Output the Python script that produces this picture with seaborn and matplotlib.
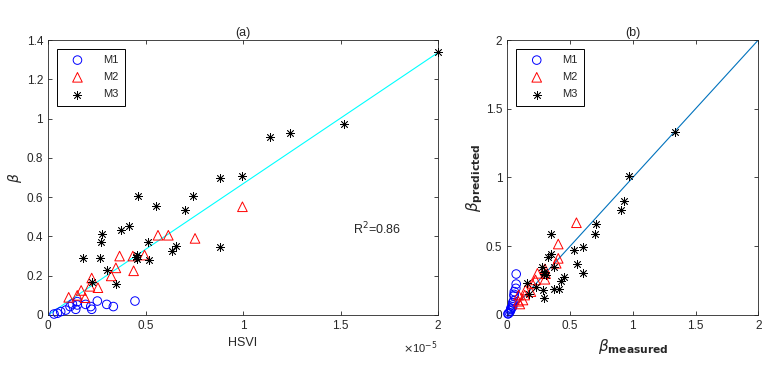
import numpy as np
import pandas as pd
import seaborn as sns
import matplotlib.pyplot as plt

# HSVI values are in units of 1e-5
hsvi_m1 = [0.446, 0.335, 0.301, 0.253, 0.219, 0.224, 0.193, 0.150, 0.142, 0.113, 0.091, 0.065, 0.048, 0.031, 0.150, 0.125]
beta_m1 = [0.071, 0.043, 0.054, 0.071, 0.043, 0.029, 0.054, 0.051, 0.029, 0.043, 0.025, 0.017, 0.009, 0.005, 0.068, 0.056]
pred_m1 = [0.298, 0.073, 0.138, 0.225, 0.090, 0.041, 0.150, 0.104, 0.050, 0.060, 0.030, 0.017, 0.010, 0.008, 0.194, 0.170]

hsvi_m2 = [0.997, 0.564, 0.617, 0.754, 0.367, 0.435, 0.495, 0.439, 0.348, 0.324, 0.224, 0.256, 0.215, 0.170, 0.150, 0.106, 0.190]
beta_m2 = [0.551, 0.406, 0.406, 0.390, 0.300, 0.300, 0.305, 0.225, 0.240, 0.199, 0.188, 0.139, 0.146, 0.125, 0.100, 0.090, 0.088]
pred_m2 = [0.671, 0.516, 0.412, 0.376, 0.335, 0.260, 0.300, 0.255, 0.303, 0.230, 0.170, 0.145, 0.182, 0.109, 0.080, 0.145, 0.100]

hsvi_m3 = [2.000, 1.520, 1.240, 1.140, 0.995, 0.882, 0.463, 0.742, 0.554, 0.704, 0.415, 0.373, 0.279, 0.272,
           0.514, 0.658, 0.882, 0.634, 0.455, 0.181, 0.267, 0.455, 0.520, 0.304, 0.224, 0.349, 0.450]
beta_m3 = [1.340, 0.970, 0.927, 0.906, 0.708, 0.696, 0.607, 0.607, 0.555, 0.535, 0.453, 0.431, 0.411, 0.372,
           0.372, 0.351, 0.348, 0.327, 0.305, 0.292, 0.289, 0.285, 0.280, 0.229, 0.170, 0.158, 0.295]
pred_m3 = [1.329, 1.013, 0.831, 0.764, 0.662, 0.589, 0.497, 0.308, 0.371, 0.473, 0.274, 0.250, 0.187, 0.187,
           0.347, 0.589, 0.444, 0.424, 0.291, 0.315, 0.121, 0.182, 0.347, 0.206, 0.153, 0.235, 0.300]

# regression line in (a) and 1:1 line in (b)
fit_x = [0.0, 2.0]
fit_y = [0.0, 1.336]
ref_xy = [0.0, 2.0]
r2_text = "R$^2$=0.86"

models = ["M1", "M2", "M3"]
df = pd.concat([
    pd.DataFrame({"model": m, "hsvi": h, "beta": b, "pred": p})
    for m, h, b, p in zip(models, [hsvi_m1, hsvi_m2, hsvi_m3],
                          [beta_m1, beta_m2, beta_m3], [pred_m1, pred_m2, pred_m3])
])

sns.set_style("ticks")
plt.rcParams["font.family"] = ["Liberation Sans", "DejaVu Sans"]
plt.rcParams["font.size"] = 8
plt.rcParams["axes.edgecolor"] = "#262626"
plt.rcParams["xtick.color"] = "#262626"
plt.rcParams["ytick.color"] = "#262626"

styles = {
    "M1": dict(marker="o", facecolor="none", edgecolor="blue", color="blue", s=38, linewidth=0.7),
    "M2": dict(marker="^", facecolor="none", edgecolor="red", color="red", s=48, linewidth=0.7),
    "M3": dict(marker=(8, 2, 0), color="black", s=34, linewidth=0.55),
}

fig = plt.figure(figsize=(7.82, 3.67), dpi=100)
ax1 = fig.add_axes([0.0614, 0.1417, 0.4987, 0.7493])
ax2 = fig.add_axes([0.6487, 0.1417, 0.3210, 0.7493])

for m in models:
    d = df[df["model"] == m]
    sns.scatterplot(x=d["hsvi"], y=d["beta"], ax=ax1, label=m, clip_on=False, zorder=3, **styles[m])
    sns.scatterplot(x=d["beta"], y=d["pred"], ax=ax2, label=m, clip_on=False, zorder=3, **styles[m])

sns.lineplot(x=fit_x, y=fit_y, ax=ax1, color="#00FFFF", linewidth=0.8)
sns.lineplot(x=ref_xy, y=ref_xy, ax=ax2, color="#0072BD", linewidth=0.8)

ax1.set_xlim(0, 2)
ax1.set_ylim(0, 1.4)
ax1.set_xticks([0, 0.5, 1, 1.5, 2])
ax1.set_yticks(np.arange(0, 1.41, 0.2))
ax1.set_xticklabels(["0", "0.5", "1", "1.5", "2"])
ax1.set_yticklabels(["0", "0.2", "0.4", "0.6", "0.8", "1", "1.2", "1.4"])
ax1.set_xlabel("HSVI", fontsize=9)
ax1.set_ylabel(r"$\beta$", fontsize=10, labelpad=2)
ax1.set_title("(a)", fontsize=9, pad=3)
ax1.text(1.565, 0.44, r2_text, fontsize=9, va="center")
ax1.text(1.0, -0.09, r"$\times$10$^{-5}$", transform=ax1.transAxes, ha="right", va="top", fontsize=8)

ax2.set_xlim(0, 2)
ax2.set_ylim(0, 2)
ticks = [0, 0.5, 1, 1.5, 2]
labels = ["0", "0.5", "1", "1.5", "2"]
ax2.set_xticks(ticks)
ax2.set_yticks(ticks)
ax2.set_xticklabels(labels)
ax2.set_yticklabels(labels)
ax2.set_xlabel(r"$\beta_{\mathbf{measured}}$", fontsize=11)
ax2.set_ylabel(r"$\beta_{\mathbf{predicted}}$", fontsize=11, labelpad=1)
ax2.set_title("(b)", fontsize=9, pad=3)

for ax in (ax1, ax2):
    ax.tick_params(direction="in", top=True, right=True, length=3, width=0.6, labelsize=8.5)
    for sp in ax.spines.values():
        sp.set_linewidth(0.6)
        sp.set_visible(True)
    leg = ax.legend(loc="upper left", fancybox=False, edgecolor="black", framealpha=1,
                    fontsize=8, borderaxespad=0.8, handletextpad=1.0, labelspacing=0.65,
                    borderpad=0.55, handlelength=2.6)
    leg.get_frame().set_linewidth(0.7)

fig.savefig("out.png", dpi=100)
plt.close(fig)
